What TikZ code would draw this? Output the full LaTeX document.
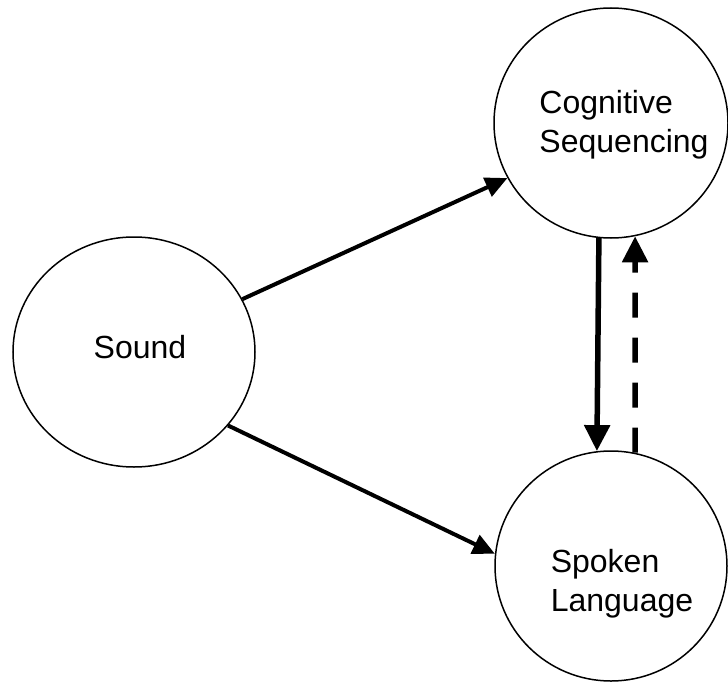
\documentclass[tikz,border=0pt]{standalone}
\usepackage{fontspec}
\setmainfont{Liberation Sans}
\usetikzlibrary{arrows.meta,shapes.geometric}

\tikzset{%
	bubble/.style={
		draw,
		ellipse,
		line width=1.5pt,
		minimum height=230pt,
		inner sep=0pt
	},
	bubble text/.style={
		align=left,
		font=\fontsize{32}{39}\selectfont
	},
	link/.style={
		->,
		line width=4pt,
		>={Triangle[length=22pt,width=20pt]}
	},
	updown/.style={
		->,
		line width=5.5pt,
		>={Triangle[length=26pt,width=25pt]}
	},
}

\begin{document}
\begin{tikzpicture}[x=1pt, y=-1pt]
\useasboundingbox (0,0) rectangle (728,682);

\foreach \n/\x/\y/\w/\dx/\dy/\t in {sound/134/352/242/6/5/Sound, cog/611/123/234/13/-2/{Cognitive\\Sequencing}, spoken/611/566/232/11/-18/{Spoken\\Language}}
{
	\node [bubble, minimum width=\w pt, label={[bubble text, xshift=\dx pt, yshift=\dy pt]center:\t}] (\n) at (\x,\y) {};
}

% arrows
\draw [link] (sound.26) -- (cog.208);
\draw [link] (sound.-38) -- (spoken.174);

\draw [updown] (cog.264) -- (spoken.97);
\draw [updown, dash pattern=on 25pt off 20pt] (spoken.78) -- (cog.282);

\end{tikzpicture}
\end{document}
